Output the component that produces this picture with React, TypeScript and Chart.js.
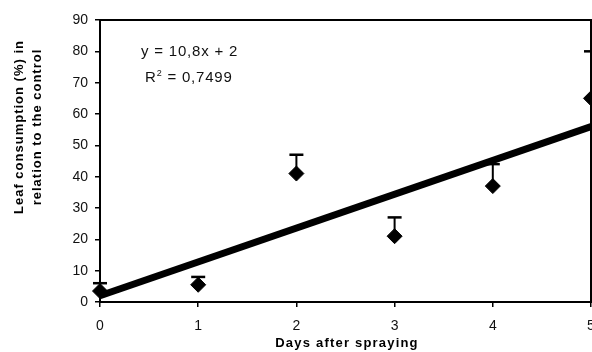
import React, { useEffect, useRef } from 'react';
import { Chart, registerables } from 'chart.js';

Chart.register(...registerables);

const days = [0, 1, 2, 3, 4, 5];
const consumption = [3.5, 5.5, 41, 21, 37, 65];
const errorUpper = [6, 8, 47, 27, 44, 80];
const trendX = [0, 5];
const trendY = [2, 56];
const xTitle = 'Days after spraying';
const yTitleLines = ['Leaf consumption (%) in', 'relation to the control'];
const equationText = 'y = 10,8x + 2';
const r2Value = ' = 0,7499';

const FONT = "'Liberation Sans', Arial, sans-serif";

const overlayPlugin = {
  id: 'overlay',
  beforeDatasetsDraw(chart: any) {
    const { ctx, scales } = chart;
    const x = scales.x;
    const y = scales.y;
    ctx.save();
    ctx.strokeStyle = '#000';
    days.forEach((d, i) => {
      const px = x.getPixelForValue(d);
      const py0 = y.getPixelForValue(consumption[i]);
      const py1 = y.getPixelForValue(errorUpper[i]);
      ctx.lineWidth = 2;
      ctx.beginPath();
      ctx.moveTo(px, py0);
      ctx.lineTo(px, py1);
      ctx.stroke();
      ctx.lineWidth = 2.5;
      ctx.beginPath();
      ctx.moveTo(px - 7, py1);
      ctx.lineTo(px + 7, py1);
      ctx.stroke();
    });
    ctx.restore();
  },
  afterDraw(chart: any) {
    const { ctx, chartArea } = chart;
    ctx.save();
    ctx.strokeStyle = '#000';
    ctx.lineWidth = 2;
    ctx.strokeRect(chartArea.left, chartArea.top, chartArea.right - chartArea.left, chartArea.bottom - chartArea.top);

    // equation
    ctx.fillStyle = '#111';
    (ctx as any).letterSpacing = '0.8px';
    ctx.font = `15px ${FONT}`;
    ctx.textBaseline = 'alphabetic';
    ctx.textAlign = 'left';
    const ex = chartArea.left + 41;
    ctx.fillText(equationText, ex, chartArea.top + 36);
    const rx = chartArea.left + 45;
    const ry = chartArea.top + 62;
    ctx.fillText('R', rx, ry);
    const rw = ctx.measureText('R').width;
    ctx.font = `9px ${FONT}`;
    ctx.fillText('2', rx + rw, ry - 6);
    const sw = ctx.measureText('2').width;
    ctx.font = `15px ${FONT}`;
    ctx.fillText(r2Value, rx + rw + sw, ry);

    // axis titles
    ctx.font = `bold 13px ${FONT}`;
    ctx.textAlign = 'center';
    ctx.textBaseline = 'middle';
    ctx.fillStyle = '#000';
    (ctx as any).letterSpacing = '1.2px';
    ctx.fillText(xTitle, 347, 343);

    (ctx as any).letterSpacing = '1px';
    ctx.translate(28, 127);
    ctx.rotate(-Math.PI / 2);
    ctx.fillText(yTitleLines[0], 0, -9);
    ctx.fillText(yTitleLines[1], 0, 9);
    ctx.restore();
  },
};

export default function App() {
  const canvasRef = useRef<HTMLCanvasElement | null>(null);

  useEffect(() => {
    document.body.style.margin = '0';
    const canvas = canvasRef.current;
    if (!canvas) return;
    const chart = new Chart(canvas, {
      type: 'scatter',
      data: {
        datasets: [
          {
            type: 'line',
            label: 'Trend',
            data: trendX.map((d, i) => ({ x: d, y: trendY[i] })),
            borderColor: '#000',
            borderWidth: 7,
            pointRadius: 0,
            borderCapStyle: 'butt',
            fill: false,
            clip: false as any,
          } as any,
          {
            label: 'Leaf consumption',
            data: days.map((d, i) => ({ x: d, y: consumption[i] })),
            backgroundColor: '#000',
            borderColor: '#000',
            pointStyle: 'rectRot',
            pointRadius: 7.5,
            pointHoverRadius: 7.5,
            clip: false as any,
          },
        ],
      },
      options: {
        responsive: false,
        animation: false,
        events: [],
        layout: { autoPadding: false, padding: { top: 20, right: 1, left: 0, bottom: 0 } },
        plugins: {
          legend: { display: false },
          tooltip: { enabled: false },
        },
        scales: {
          x: {
            type: 'linear',
            min: 0,
            max: 5,
            border: { display: false },
            grid: { drawOnChartArea: false, drawTicks: true, tickLength: 5, color: '#000', lineWidth: 1.5 },
            ticks: {
              stepSize: 1,
              color: '#111',
              padding: 11,
              font: { family: FONT, size: 14 },
              maxRotation: 0,
            },
            afterFit: (scale: any) => {
              scale.height = 50;
              scale.paddingLeft = 0;
              scale.paddingRight = 0;
            },
          },
          y: {
            type: 'linear',
            min: 0,
            max: 90,
            border: { display: false },
            grid: { drawOnChartArea: false, drawTicks: true, tickLength: 5, color: '#000', lineWidth: 1.5 },
            ticks: {
              stepSize: 10,
              color: '#111',
              padding: 7,
              font: { family: FONT, size: 14 },
            },
            afterFit: (scale: any) => {
              scale.width = 100;
            },
          },
        },
      },
      plugins: [overlayPlugin],
    } as any);
    return () => chart.destroy();
  }, []);

  return (
    <div style={{ width: 592, height: 352, background: '#fff' }}>
      <canvas ref={canvasRef} width={592} height={352} style={{ display: 'block' }} />
    </div>
  );
}
